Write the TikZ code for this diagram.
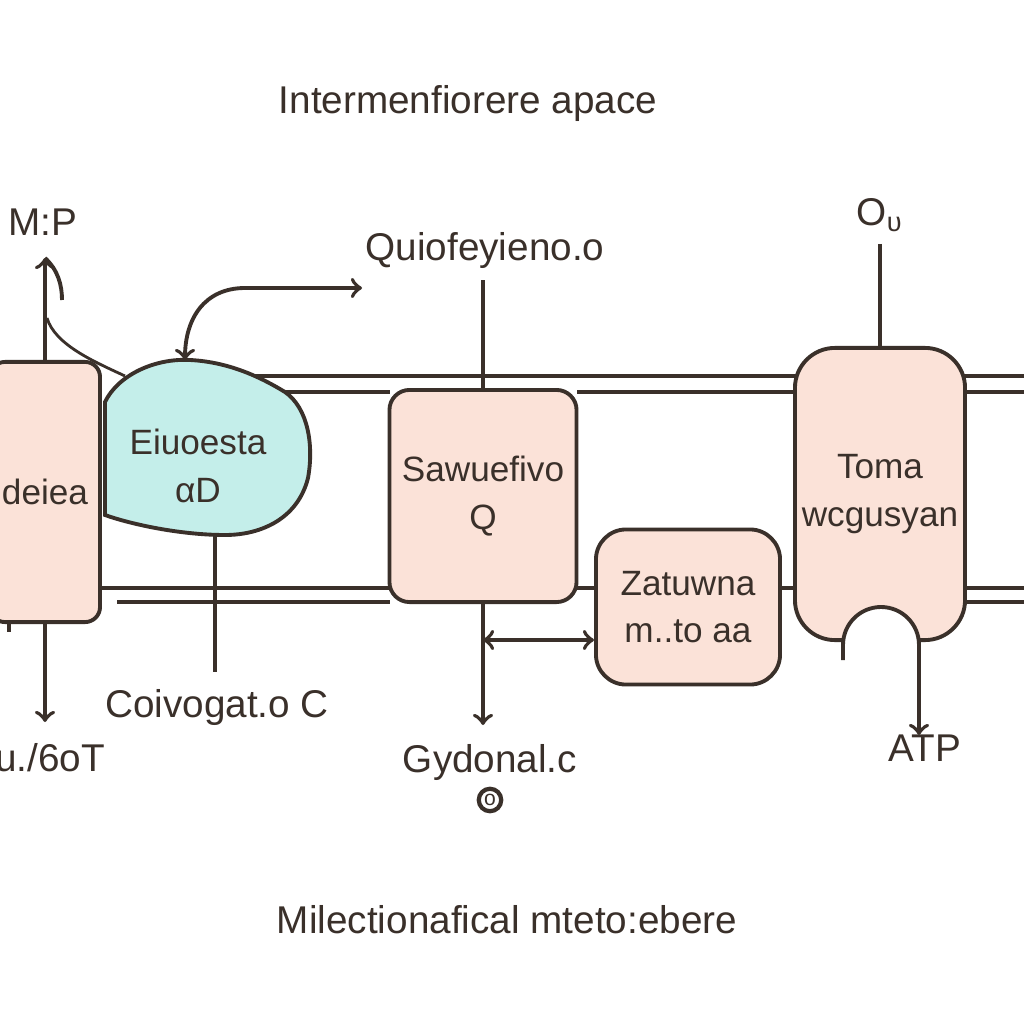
\documentclass[tikz,border=0pt]{standalone}
\usepackage{fontspec}
\setmainfont{Liberation Sans}
\definecolor{ink}{HTML}{3A302A}
\definecolor{cellpink}{HTML}{FBE2D8}
\definecolor{blobcyan}{HTML}{C4EEEA}
\begin{document}
\begin{tikzpicture}[x=0.01cm,y=-0.01cm]
	\tikzset{every node/.style=
        {text=ink, align=center, font=\fontsize{11}{13.6}\selectfont},
        cell/.style={draw=ink, line width=1.1pt, fill=cellpink, inner sep=1pt, font=\fontsize{10}{13.6}\selectfont},
        link/.style={draw=ink, line width=1.1pt},
        membr/.style={draw=ink, line width=1pt}
     }
	\clip (0,0) rectangle (1024,1024);
	\fill[white] (0,0) rectangle (1024,1024);
	% membrane lines
	\draw[membr] (200,376) -- (1024,376);
	\draw[membr] (250,392) -- (390,392);
	\draw[membr] (577,392) -- (1024,392);
	\draw[membr] (100,588) -- (1024,588);
	\draw[membr] (117,602) -- (390,602);
	\draw[membr] (965,602) -- (1024,602);
	\draw[membr] (0,620) -- (12,620);
	\draw[membr] (9,610) -- (9,632);
	% blob
	\draw[link, fill=blobcyan] (105,402) .. controls (118,375) and (155,358) .. (190,360)
		.. controls (230,362) and (262,378) .. (285,392) .. controls (308,408) and (314,445) .. (308,478)
		.. controls (298,518) and (262,535) .. (225,535) .. controls (180,535) and (130,524) .. (105,515) -- cycle;
	\coordinate (blobtop) at (185,360);
	\coordinate (blobfoot) at (215,535);
	\node (blob) at (198,466) [font=\fontsize{10}{13.6}\selectfont] {Eiuoesta\\αD};
	% boxes
	\node (lbox) at (45,492) [cell, rounded corners=0.15cm, minimum width=1.1cm, minimum height=2.6cm] {deiea};
	\node (sqbox) at (483,496) [cell, rounded corners=0.2cm, minimum width=1.87cm, minimum height=2.12cm] {Sawuefivo\\Q};
	\node (zat) at (688,607) [cell, rounded corners=0.3cm, minimum width=1.84cm, minimum height=1.55cm] {Zatuwna\\m..to aa};
	\node (rbox) at (880,494) [cell, rounded corners=0.4cm, minimum width=1.7cm, minimum height=2.92cm] {Toma\\wcgusyan};
	% labels
	\node (title) at (468,103) {Intermenfiorere apace};
	\node (bottom) at (507,920) {Milectionafical mteto:ebere};
	\node (mp) at (43,222) {M:P};
	\node (quio) at (485,250) {Quiofeyieno.o};
	\node (onode) at (880,215) {O\textsubscript{υ}};
	\node (conv) at (217,707) {Coivogat.o C};
	\node (uot) at (50,758) {u./6oT};
	\node (gyd) at (490,762) {Gydonal.c};
	\node (gydmark) at (490,800) [circle, draw=ink, line width=1.2pt, inner sep=0.6pt, font=\fontsize{6}{6}\selectfont] {o};
	\node (atp) at (925,748) {ATP};
	\coordinate (mptip) at (45,258);
	\coordinate (qtip) at (362,288);
	\coordinate (convtop) at (215,672);
	\coordinate (uottip) at (45,722);
	\coordinate (gydtip) at (483,725);
	\coordinate (atptip) at (919,735);
	% connectors
	\draw[link,->] (lbox.north) -- (mptip);
	\draw[link] (mptip) .. controls (58,270) and (62,285) .. (62,300);
	\draw[link, line width=0.8pt] (47,318) .. controls (55,345) and (95,362) .. (125,376);
	\draw[link,<->] (blobtop) .. controls (185,318) and (205,288) .. (245,288) -- (qtip);
	\draw[link] (sqbox.north |- quio.south) -- (sqbox.north);
	\draw[link] (blobfoot) -- (convtop);
	\draw[link,->] (lbox.south) -- (uottip);
	\draw[link,->] (sqbox.south) -- (gydtip);
	\draw[link,<->] (sqbox.south |- 0,640) -- (zat.west |- 0,640);
	\draw[link] (onode.south) -- (rbox.north);
	% ATP notch
	\fill[white] (843,662) -- (843,645) arc (180:360:38) -- (919,662) -- cycle;
	\draw[link,->] (843,660) -- (843,645) arc (180:360:38) -- (atptip);
\end{tikzpicture}
\end{document}
